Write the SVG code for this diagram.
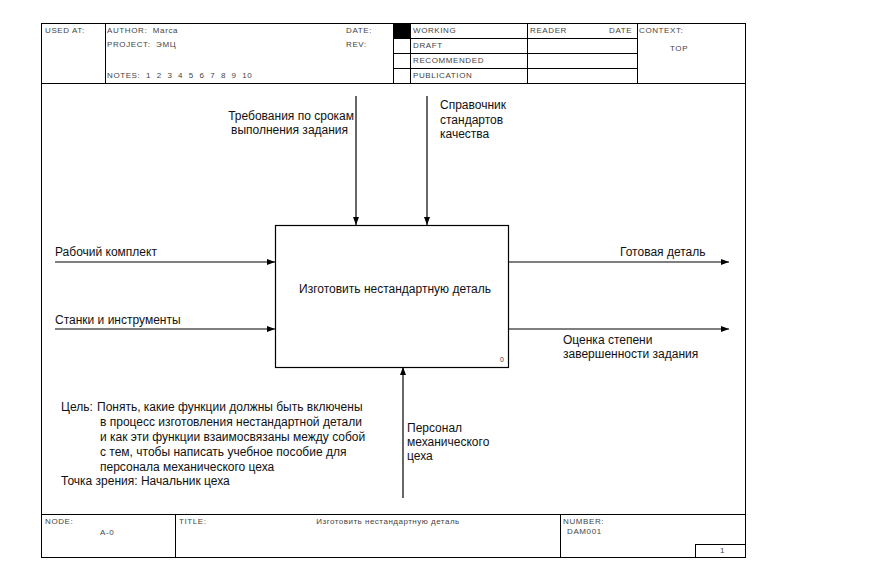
<svg xmlns="http://www.w3.org/2000/svg" width="881" height="567" viewBox="0 0 881 567">
<style>
.frame{fill:none;stroke:#000;stroke-width:1}
.hdr{font-family:"Liberation Sans",Arial,sans-serif;font-size:8px;fill:#444;letter-spacing:0.6px;white-space:pre}
.lbl{font-family:"Liberation Sans",Arial,sans-serif;font-size:12px;fill:#111}
.arr{fill:none;stroke:#000;stroke-width:1.2}
</style>
<defs>
<marker id="ah" markerWidth="8" markerHeight="6" refX="8" refY="3" orient="auto" markerUnits="userSpaceOnUse">
<path d="M0,0 L8,3 L0,6 Z" fill="#000"/>
</marker>
</defs>
<rect x="0" y="0" width="881" height="567" fill="#fff"/>
<g id="frame">
<rect class="frame" x="41.5" y="23.5" width="704" height="534"/>
<line class="frame" x1="41" y1="83.5" x2="746" y2="83.5"/>
<line class="frame" x1="105.5" y1="23" x2="105.5" y2="83"/>
<line class="frame" x1="393.5" y1="23" x2="393.5" y2="83"/>
<line class="frame" x1="410.5" y1="23" x2="410.5" y2="83"/>
<line class="frame" x1="527.5" y1="23" x2="527.5" y2="83"/>
<line class="frame" x1="637.5" y1="23" x2="637.5" y2="83"/>
<line class="frame" x1="393" y1="38.5" x2="637" y2="38.5"/>
<line class="frame" x1="393" y1="53.5" x2="637" y2="53.5"/>
<line class="frame" x1="393" y1="68.5" x2="637" y2="68.5"/>
<rect x="394" y="24" width="16" height="14" fill="#000"/>
<text class="hdr" x="45" y="33">USED AT:</text>
<text class="hdr" x="107" y="33" xml:space="preserve">AUTHOR:  Marca</text>
<text class="hdr" x="107" y="47" xml:space="preserve">PROJECT:  ЭМЦ</text>
<text class="hdr" x="107" y="78" xml:space="preserve">NOTES:  1  2  3  4  5  6  7  8  9  10</text>
<text class="hdr" x="346" y="33">DATE:</text>
<text class="hdr" x="346" y="47">REV:</text>
<text class="hdr" x="413" y="33">WORKING</text>
<text class="hdr" x="413" y="48">DRAFT</text>
<text class="hdr" x="413" y="63">RECOMMENDED</text>
<text class="hdr" x="413" y="78">PUBLICATION</text>
<text class="hdr" x="530" y="33">READER</text>
<text class="hdr" x="609" y="33">DATE</text>
<text class="hdr" x="639" y="33">CONTEXT:</text>
<text class="hdr" x="670" y="51">TOP</text>
<line class="frame" x1="41" y1="514.5" x2="746" y2="514.5"/>
<line class="frame" x1="175.5" y1="514" x2="175.5" y2="557"/>
<line class="frame" x1="560.5" y1="514" x2="560.5" y2="557"/>
<rect class="frame" x="695.5" y="544.5" width="50" height="13"/>
<text class="hdr" x="45" y="524">NODE:</text>
<text class="hdr" x="100" y="535">A-0</text>
<text class="hdr" x="179" y="524">TITLE:</text>
<text class="hdr" x="388" y="524" text-anchor="middle" style="letter-spacing:0.5px">Изготовить нестандартную деталь</text>
<text class="hdr" x="563" y="524">NUMBER:</text>
<text class="hdr" x="567" y="534">DAM001</text>
<text class="hdr" x="720" y="553">1</text>
</g>
<g id="node-A0">
<rect x="275.5" y="225.5" width="233" height="142" fill="#fff" stroke="#000" stroke-width="1.2"/>
<text class="lbl" x="395" y="293" text-anchor="middle">Изготовить нестандартную деталь</text>
<text class="hdr" x="500" y="362" style="font-size:7px">0</text>
</g>
<g id="connectors">
<line class="arr" x1="356" y1="96" x2="356" y2="225" marker-end="url(#ah)"/>
<line class="arr" x1="427" y1="96" x2="427" y2="225" marker-end="url(#ah)"/>
<line class="arr" x1="55" y1="262" x2="275" y2="262" marker-end="url(#ah)"/>
<line class="arr" x1="55" y1="329" x2="275" y2="329" marker-end="url(#ah)"/>
<line class="arr" x1="508" y1="262" x2="729" y2="262" marker-end="url(#ah)"/>
<line class="arr" x1="508" y1="329" x2="729" y2="329" marker-end="url(#ah)"/>
<line class="arr" x1="403" y1="498" x2="403" y2="367" marker-end="url(#ah)"/>
</g>
<g id="labels">
<text class="lbl" x="354" y="120" text-anchor="end">Требования по срокам</text>
<text class="lbl" x="231" y="134">выполнения задания</text>
<text class="lbl" x="440" y="109">Справочник</text>
<text class="lbl" x="440" y="124">стандартов</text>
<text class="lbl" x="440" y="138">качества</text>
<text class="lbl" x="55" y="256">Рабочий комплект</text>
<text class="lbl" x="55" y="324">Станки и инструменты</text>
<text class="lbl" x="620" y="256">Готовая деталь</text>
<text class="lbl" x="563" y="344">Оценка степени</text>
<text class="lbl" x="563" y="358">завершенности задания</text>
<text class="lbl" x="407" y="432">Персонал</text>
<text class="lbl" x="407" y="446">механического</text>
<text class="lbl" x="407" y="460">цеха</text>
</g>
<g id="purpose">
<text class="lbl" x="61" y="411">Цель:</text>
<text class="lbl" x="97" y="411">Понять, какие функции должны быть включены</text>
<text class="lbl" x="100" y="426">в процесс изготовления нестандартной детали</text>
<text class="lbl" x="100" y="441">и как эти функции взаимосвязаны между собой</text>
<text class="lbl" x="100" y="456">с тем, чтобы написать учебное пособие для</text>
<text class="lbl" x="100" y="471">персонала механического цеха</text>
<text class="lbl" x="61" y="485">Точка зрения: Начальник цеха</text>
</g>
</svg>
